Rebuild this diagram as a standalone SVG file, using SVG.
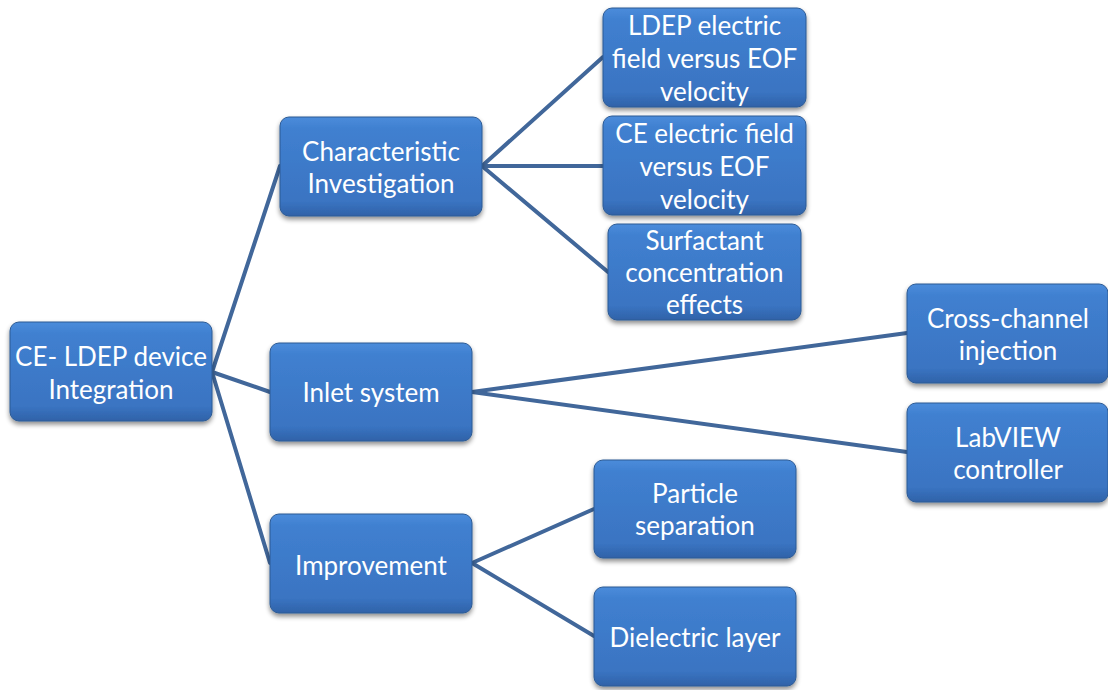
<svg xmlns="http://www.w3.org/2000/svg" width="1108" height="690" viewBox="0 0 1108 690">
<defs>
<linearGradient id="g" x1="0" y1="0" x2="0" y2="1">
<stop offset="0" stop-color="#4b8cdb"/>
<stop offset="0.12" stop-color="#4080d0"/>
<stop offset="0.85" stop-color="#3a74c2"/>
<stop offset="1" stop-color="#2f62a8"/>
</linearGradient>
<filter id="sh" x="-10%" y="-10%" width="125%" height="135%">
<feGaussianBlur in="SourceAlpha" stdDeviation="2.5"/>
<feOffset dx="0" dy="3" result="b"/>
<feComponentTransfer><feFuncA type="linear" slope="0.45"/></feComponentTransfer>
<feMerge><feMergeNode/><feMergeNode in="SourceGraphic"/></feMerge>
</filter>
</defs>
<style>
.box{fill:url(#g);stroke:#2c5a94;stroke-width:1;filter:url(#sh)}
.t{font-family:Lato,"Open Sans",sans-serif;font-size:26px;fill:#ffffff;text-anchor:middle;dominant-baseline:central}
.c{stroke:#41679a;stroke-width:4;fill:none;stroke-linecap:round}
</style>
<rect width="1108" height="690" fill="#ffffff"/>
<g id="connectors">
<line class="c" x1="212" y1="372" x2="280" y2="166"/>
<line class="c" x1="212" y1="372" x2="270" y2="392"/>
<line class="c" x1="212" y1="372" x2="270" y2="563"/>
<line class="c" x1="482" y1="166" x2="603" y2="57"/>
<line class="c" x1="482" y1="166" x2="603" y2="166"/>
<line class="c" x1="482" y1="166" x2="608" y2="272"/>
<line class="c" x1="472" y1="392" x2="907" y2="333"/>
<line class="c" x1="472" y1="392" x2="907" y2="452"/>
<line class="c" x1="472" y1="563" x2="594" y2="509"/>
<line class="c" x1="472" y1="563" x2="594" y2="636"/>
</g>
<g id="root"><rect class="box" x="10" y="322" width="202" height="99" rx="9"/><text class="t" x="111" y="356">CE- LDEP device</text><text class="t" x="111" y="389">Integration</text></g>
<g id="characteristic"><rect class="box" x="280" y="117" width="202" height="99" rx="9"/><text class="t" x="381" y="151">Characteristic</text><text class="t" x="381" y="183">Investigation</text></g>
<g id="ldep"><rect class="box" x="603" y="8" width="203" height="99" rx="9"/><text class="t" x="704.5" y="25">LDEP electric</text><text class="t" x="704.5" y="58">field versus EOF</text><text class="t" x="704.5" y="91">velocity</text></g>
<g id="ce"><rect class="box" x="603" y="116" width="203" height="99" rx="9"/><text class="t" x="704.5" y="133">CE electric field</text><text class="t" x="704.5" y="166">versus EOF</text><text class="t" x="704.5" y="199">velocity</text></g>
<g id="surfactant"><rect class="box" x="608" y="224" width="193" height="96" rx="9"/><text class="t" x="704.5" y="240">Surfactant</text><text class="t" x="704.5" y="272">concentration</text><text class="t" x="704.5" y="304">effects</text></g>
<g id="inlet"><rect class="box" x="270" y="343" width="202" height="98" rx="9"/><text class="t" x="371" y="392">Inlet system</text></g>
<g id="crosschannel"><rect class="box" x="907" y="284" width="201" height="99" rx="9"/><text class="t" x="1008" y="318">Cross-channel</text><text class="t" x="1008" y="350">injection</text></g>
<g id="labview"><rect class="box" x="907" y="403" width="201" height="99" rx="9"/><text class="t" x="1008" y="437">LabVIEW</text><text class="t" x="1008" y="469">controller</text></g>
<g id="improvement"><rect class="box" x="270" y="514" width="202" height="99" rx="9"/><text class="t" x="371" y="565">Improvement</text></g>
<g id="particle"><rect class="box" x="594" y="460" width="202" height="98" rx="9"/><text class="t" x="695" y="493">Particle</text><text class="t" x="695" y="525">separation</text></g>
<g id="dielectric"><rect class="box" x="594" y="587" width="202" height="99" rx="9"/><text class="t" x="695" y="637">Dielectric layer</text></g>
</svg>
